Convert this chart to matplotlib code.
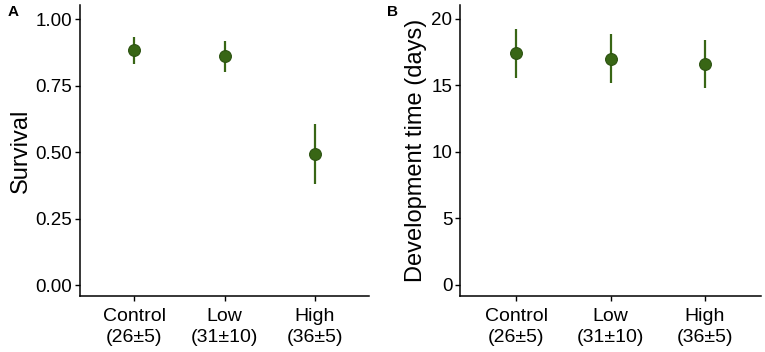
import matplotlib
matplotlib.use("Agg")
import matplotlib.pyplot as plt

plt.rcParams['font.family'] = ['Liberation Sans', 'DejaVu Sans']

# data
groups = ['Control\n(26±5)', 'Low\n(31±10)', 'High\n(36±5)']

surv_mean = [0.882, 0.860, 0.492]
surv_low = [0.832, 0.800, 0.379]
surv_high = [0.934, 0.917, 0.605]

dev_mean = [17.42, 17.02, 16.64]
dev_low = [15.54, 15.21, 14.79]
dev_high = [19.22, 18.85, 18.42]

green = '#386615'
edge = '#2b5210'

fig = plt.figure(figsize=(7.65, 3.52), dpi=100)
axA = fig.add_axes([0.1046, 0.159, 0.3778, 0.827])
axB = fig.add_axes([0.6013, 0.159, 0.3935, 0.827])


def panel(ax, mean, lo, hi, ylim, yticks, yticklabels, ylabel):
    x = list(range(1, len(mean) + 1))
    ax.vlines(x, lo, hi, color=green, lw=1.6, zorder=2)
    ax.plot(x, mean, 'o', color=green, mec=edge, mew=0.8, ms=8.5, zorder=3)
    ax.set_xlim(0.4, 3.6)
    ax.set_ylim(*ylim)
    ax.set_xticks(x)
    ax.set_xticklabels(groups, fontsize=14, linespacing=1.3)
    ax.set_yticks(yticks)
    ax.set_yticklabels(yticklabels, fontsize=13.5)
    ax.set_ylabel(ylabel, fontsize=17, labelpad=3)
    for s in ['top', 'right']:
        ax.spines[s].set_visible(False)
    for s in ['left', 'bottom']:
        ax.spines[s].set_linewidth(1.1)
    ax.tick_params(length=3.5, width=1.0, pad=2, color='black')
    ax.tick_params(axis='x', pad=5)


panel(axA, surv_mean, surv_low, surv_high, (-0.041, 1.053),
      [0, 0.25, 0.5, 0.75, 1.0], ['0.00', '0.25', '0.50', '0.75', '1.00'],
      'Survival')
panel(axB, dev_mean, dev_low, dev_high, (-0.83, 21.05),
      [0, 5, 10, 15, 20], ['0', '5', '10', '15', '20'],
      'Development time (days)')

# panel tags
fig.text(8 / 765, 1 - 12 / 352, 'A', fontsize=11, fontweight='bold', va='center')
fig.text(387 / 765, 1 - 12 / 352, 'B', fontsize=11, fontweight='bold', va='center')

fig.savefig('out.png', dpi=100)
